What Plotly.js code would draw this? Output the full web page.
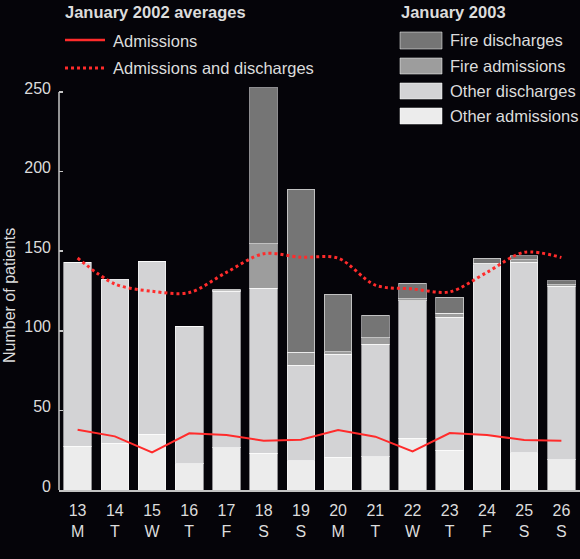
<!DOCTYPE html>
<html>
<head>
<meta charset="utf-8">
<script src="https://cdn.plot.ly/plotly-3.0.1.min.js"></script>
<style>
  html, body { margin: 0; padding: 0; background: #050409; }
  #chart { width: 580px; height: 559px; }
</style>
</head>
<body>
<div id="chart"></div>
<script>
// ---- data ----
var days = [13, 14, 15, 16, 17, 18, 19, 20, 21, 22, 23, 24, 25, 26];
var weekdays = ['M', 'T', 'W', 'T', 'F', 'S', 'S', 'M', 'T', 'W', 'T', 'F', 'S', 'S'];

// January 2003 (stacked bars)
var otherAdmissions = [27.5, 29.5, 35, 16.5, 26.5, 23, 18.5, 20.5, 21, 32.5, 25, 34, 23.5, 19];
var otherDischarges = [115.5, 102.5, 108.8, 86.5, 98.3, 103.6, 60, 64.9, 70.7, 86.5, 83.4, 107.5, 119.5, 109];
var fireAdmissions  = [0, 0, 0, 0, 0.4, 28.1, 7.9, 1.5, 3.8, 1, 2.6, 0.8, 1.5, 0.8];
var fireDischarges  = [0, 0, 0, 0, 1, 97.8, 102.6, 36.2, 14.4, 10, 10, 3.4, 2.7, 2.5];

// January 2002 averages (lines)
var avgAdmissions = [37.9, 33.7, 23.6, 35.6, 34.5, 31, 31.6, 37.7, 33.5, 24.2, 35.8, 34.5, 31.4, 31];
var avgAdmDis     = [145.7, 129.4, 124.8, 124, 136.7, 148.4, 146.2, 145.6, 128.7, 126.3, 124.5, 136.7, 149.3, 146];

var yTicks = [0, 50, 100, 150, 200, 250];
var tickText = days.map(function (d, i) { return d + '<br>' + weekdays[i]; });

// ---- styling ----
var W = 580, H = 559, ML = 59, MR = 0, MT = 84, MB = 69;
var BG = '#050409', TXT = '#dcdcdc', AX = '#c4c4c4', RED = '#ff2b2b';
var C_OA = '#ececec', C_OD = '#d3d3d5', C_FA = '#9d9d9d', C_FD = '#757575';
var FONT = 'Liberation Sans, Arial, Helvetica, sans-serif';
var LF = 16.5;
var barLine = { color: 'rgba(255,255,255,0.55)', width: 1 };

function pxX(px) { return (px - ML) / (W - ML - MR); }
function pxY(py) { return (H - MB - py) / (H - MT - MB); }

var traces = [
  { type: 'bar', name: 'Other admissions', x: days, y: otherAdmissions, marker: { color: C_OA, line: barLine } },
  { type: 'bar', name: 'Other discharges', x: days, y: otherDischarges, marker: { color: C_OD, line: barLine } },
  { type: 'bar', name: 'Fire admissions', x: days, y: fireAdmissions, marker: { color: C_FA, line: barLine } },
  { type: 'bar', name: 'Fire discharges', x: days, y: fireDischarges, marker: { color: C_FD, line: barLine } },
  { type: 'scatter', mode: 'lines', name: 'Admissions', x: days, y: avgAdmissions,
    line: { color: RED, width: 2 } },
  { type: 'scatter', mode: 'lines', name: 'Admissions and discharges', x: days, y: avgAdmDis,
    line: { color: RED, width: 3, dash: 'dot', shape: 'spline', smoothing: 0.9 } }
];

// legend (drawn manually to match the reference swatches)
var shapes = [
  { type: 'line', xref: 'paper', yref: 'y', x0: 0, x1: 0, y0: 0, y1: 250, line: { color: AX, width: 1.5 } },
  { type: 'line', xref: 'paper', yref: 'paper', x0: pxX(65), x1: pxX(105), y0: pxY(40), y1: pxY(40), line: { color: RED, width: 2.5 } },
  { type: 'line', xref: 'paper', yref: 'paper', x0: pxX(65), x1: pxX(105), y0: pxY(68), y1: pxY(68), line: { color: RED, width: 3, dash: 'dot' } }
];
var legBars = [
  { label: 'Fire discharges', color: C_FD, y0: 32, y1: 49 },
  { label: 'Fire admissions', color: C_FA, y0: 58, y1: 74 },
  { label: 'Other discharges', color: C_OD, y0: 83, y1: 99 },
  { label: 'Other admissions', color: C_OA, y0: 108, y1: 124 }
];
var annotations = [
  { text: '<b>January 2002 averages</b>', xref: 'paper', yref: 'paper', x: pxX(63), y: pxY(12),
    xanchor: 'left', yanchor: 'middle', showarrow: false, font: { size: LF, color: TXT, family: FONT } },
  { text: '<b>January 2003</b>', xref: 'paper', yref: 'paper', x: pxX(399), y: pxY(12),
    xanchor: 'left', yanchor: 'middle', showarrow: false, font: { size: LF, color: TXT, family: FONT } },
  { text: 'Admissions', xref: 'paper', yref: 'paper', x: pxX(111), y: pxY(41),
    xanchor: 'left', yanchor: 'middle', showarrow: false, font: { size: LF, color: TXT, family: FONT } },
  { text: 'Admissions and discharges', xref: 'paper', yref: 'paper', x: pxX(111), y: pxY(68),
    xanchor: 'left', yanchor: 'middle', showarrow: false, font: { size: LF, color: TXT, family: FONT } },
  { text: 'Number of patients', xref: 'paper', yref: 'paper', x: pxX(9), y: pxY(296), textangle: -90,
    xanchor: 'center', yanchor: 'middle', showarrow: false, font: { size: 16, color: TXT, family: FONT } }
];
legBars.forEach(function (b) {
  shapes.push({ type: 'rect', xref: 'paper', yref: 'paper', x0: pxX(400), x1: pxX(442), y0: pxY(b.y1), y1: pxY(b.y0),
    fillcolor: b.color, line: { color: 'rgba(255,255,255,0.5)', width: 1 } });
  annotations.push({ text: b.label, xref: 'paper', yref: 'paper', x: pxX(448), y: pxY((b.y0 + b.y1) / 2),
    xanchor: 'left', yanchor: 'middle', showarrow: false, font: { size: LF, color: TXT, family: FONT } });
});

var layout = {
  width: W, height: H,
  margin: { l: ML, r: MR, t: MT, b: MB, pad: 0 },
  paper_bgcolor: BG, plot_bgcolor: BG,
  font: { family: FONT, size: 16, color: TXT },
  showlegend: false,
  barmode: 'stack', bargap: 0.26,
  xaxis: {
    range: [12.5, 26.5], tickvals: days, ticktext: tickText,
    showline: true, linecolor: AX, linewidth: 2, ticks: '', showgrid: false, zeroline: false,
    tickfont: { size: 16, color: TXT }, ticklabelstandoff: 5, fixedrange: true
  },
  yaxis: {
    range: [0, 255], tickvals: yTicks, showline: false, showgrid: false, zeroline: false,
    ticks: 'inside', ticklen: 4, tickwidth: 1.5, tickcolor: AX,
    tickfont: { size: 16, color: TXT }, ticklabelshift: -4, ticklabelstandoff: 7, fixedrange: true
  },
  shapes: shapes,
  annotations: annotations
};

Plotly.newPlot('chart', traces, layout, { staticPlot: true, displayModeBar: false });
</script>
</body>
</html>
